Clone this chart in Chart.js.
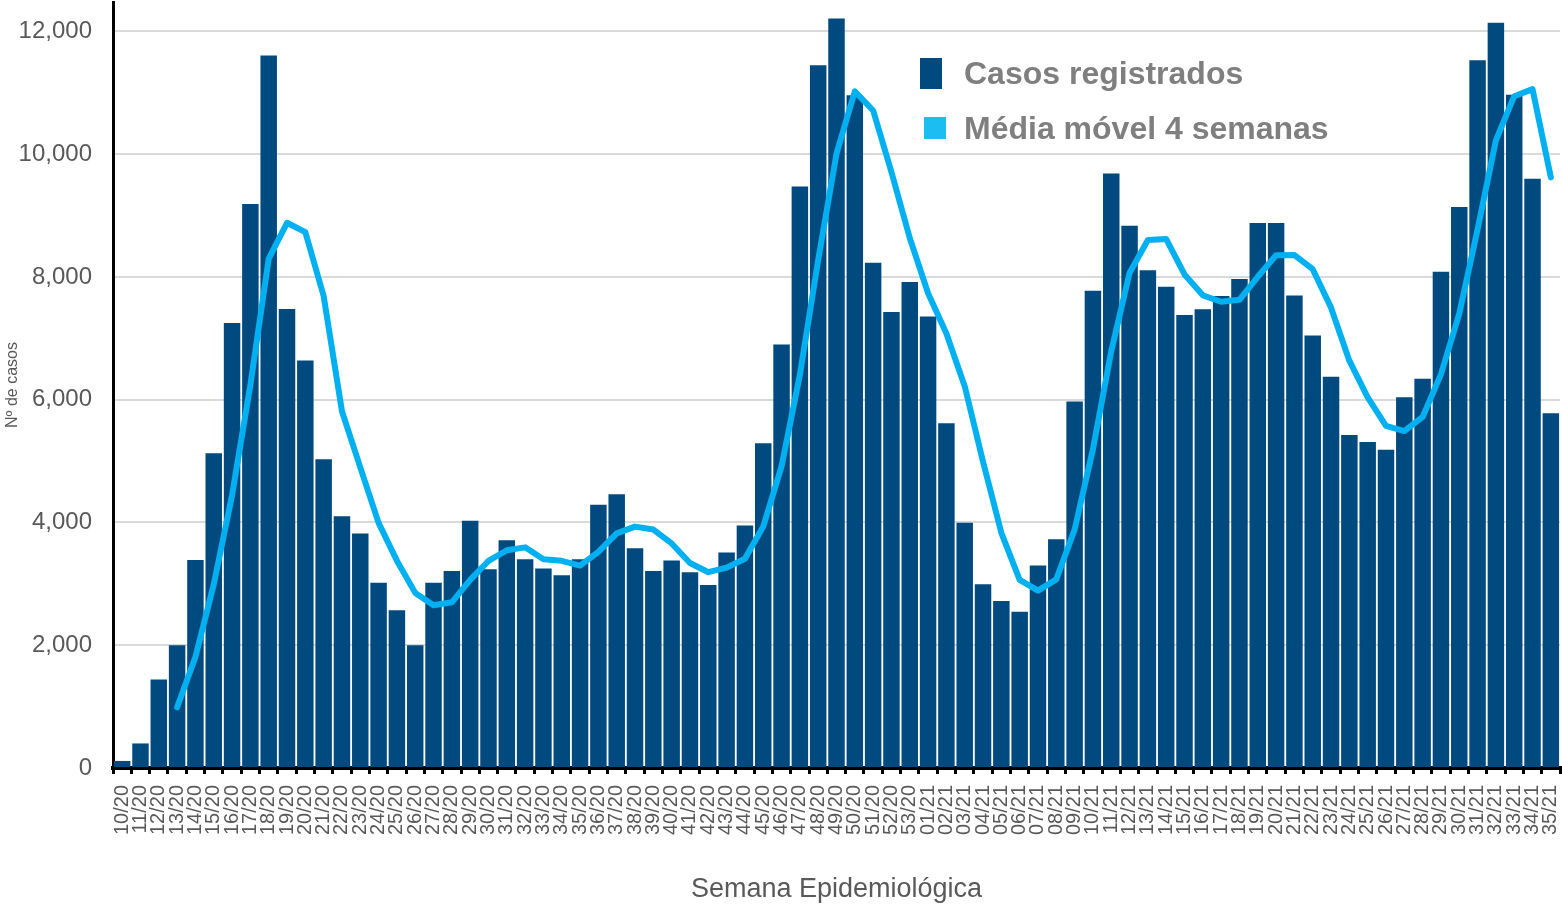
<!DOCTYPE html>
<html>
<head>
<meta charset="utf-8">
<script src="https://cdn.jsdelivr.net/npm/chart.js@4.4.1/dist/chart.umd.min.js"></script>
<style>
  html, body { margin: 0; padding: 0; background: #ffffff; }
  #wrap { width: 1562px; height: 908px; position: relative; }
</style>
</head>
<body>
<div id="wrap"><canvas id="c"></canvas></div>
<script>
const weeks = [
  "10/20","11/20","12/20","13/20","14/20","15/20","16/20","17/20","18/20","19/20",
  "20/20","21/20","22/20","23/20","24/20","25/20","26/20","27/20","28/20","29/20",
  "30/20","31/20","32/20","33/20","34/20","35/20","36/20","37/20","38/20","39/20",
  "40/20","41/20","42/20","43/20","44/20","45/20","46/20","47/20","48/20","49/20",
  "50/20","51/20","52/20","53/20",
  "01/21","02/21","03/21","04/21","05/21","06/21","07/21","08/21","09/21","10/21",
  "11/21","12/21","13/21","14/21","15/21","16/21","17/21","18/21","19/21","20/21",
  "21/21","22/21","23/21","24/21","25/21","26/21","27/21","28/21","29/21","30/21",
  "31/21","32/21","33/21","34/21","35/21"
];

const casosRegistrados = [
  115, 400, 1440, 2000, 3390, 5130, 7250, 9190, 11610, 7480,
  6640, 5030, 4100, 3820, 3020, 2570, 2000, 3020, 3210, 4030,
  3240, 3710, 3400, 3250, 3140, 3400, 4290, 4460, 3580, 3210,
  3380, 3190, 2980, 3510, 3950, 5290, 6900, 9475, 11450, 12210,
  10960, 8230, 7430, 7920,
  7355, 5615, 3995, 2995, 2720, 2545, 3300, 3725, 5970, 7775,
  9685, 8835, 8110, 7840, 7380, 7475, 7690, 7965, 8880, 8880,
  7700, 7045, 6375, 5425, 5310, 5185, 6040, 6340, 8085, 9140,
  11530, 12140, 10970, 9600, 5780
];

const mediaMovel = [
  null, null, null, 989, 1808, 2990, 4443, 6240, 8295, 8883,
  8730, 7690, 5813, 4898, 3993, 3378, 2853, 2653, 2700, 3065,
  3375, 3548, 3595, 3400, 3375, 3298, 3520, 3823, 3933, 3885,
  3658, 3340, 3190, 3265, 3408, 3933, 4913, 6404, 8279, 10009,
  11024, 10713, 9708, 8635,
  7734, 7080, 6221, 4990, 3831, 3064, 2890, 3073, 3885, 5193,
  6789, 8066, 8601, 8618, 8041, 7701, 7596, 7628, 8003, 8354,
  8356, 8126, 7500, 6636, 6039, 5574, 5490, 5719, 6413, 7401,
  8774, 10224, 10945, 11060, 9623
];

const yTicks = [0, 2000, 4000, 6000, 8000, 10000, 12000];
const seriesNames = ["Casos registrados", "Média móvel 4 semanas"];
const axisTitles = { x: "Semana Epidemiológica", y: "Nº de casos" };

const FONT = "'Liberation Sans', Arial, Helvetica, sans-serif";
Chart.defaults.font.family = FONT;
Chart.defaults.color = "#595959";

function zeroPadding(scale) {
  scale.paddingTop = 0;
  scale.paddingBottom = 0;
  scale.paddingLeft = 0;
  scale.paddingRight = 0;
}

const legendPlugin = {
  id: "floatLegend",
  afterDraw(chart) {
    const ctx = chart.ctx;
    ctx.save();
    ctx.fillStyle = "#004a7f";
    ctx.fillRect(920, 58, 22, 31);
    ctx.fillStyle = "#1cbdf0";
    ctx.fillRect(924, 117, 22, 22);
    ctx.fillStyle = "#7f7f7f";
    ctx.font = "bold 32px " + FONT;
    ctx.textBaseline = "alphabetic";
    ctx.textAlign = "left";
    ctx.fillText(chart.data.datasets[1].label, 964, 84);
    ctx.fillText(chart.data.datasets[0].label, 964, 139);
    ctx.restore();
  }
};

new Chart(document.getElementById("c"), {
  type: "bar",
  data: {
    labels: weeks,
    datasets: [
      {
        type: "line",
        label: seriesNames[1],
        data: mediaMovel,
        borderColor: "#00b0f0",
        backgroundColor: "#00b0f0",
        borderWidth: 6,
        pointRadius: 0,
        pointHoverRadius: 0,
        tension: 0,
        borderCapStyle: "round",
        borderJoinStyle: "round",
        spanGaps: false,
        order: 0
      },
      {
        type: "bar",
        label: seriesNames[0],
        data: casosRegistrados,
        backgroundColor: "#004a7f",
        borderWidth: 0,
        barPercentage: 0.9,
        categoryPercentage: 1.0,
        order: 1
      }
    ]
  },
  options: {
    responsive: true,
    maintainAspectRatio: false,
    animation: false,
    layout: { padding: { top: 2, right: 2, left: 0, bottom: 0 } },
    plugins: {
      legend: { display: false },
      tooltip: { enabled: false }
    },
    scales: {
      x: {
        offset: true,
        afterFit(scale) { scale.height = 140; zeroPadding(scale); },
        border: { display: true, color: "#000000", width: 4 },
        grid: {
          display: true,
          offset: true,
          drawOnChartArea: false,
          drawTicks: true,
          tickLength: 6,
          color: "#000000",
          lineWidth: 3
        },
        ticks: {
          autoSkip: false,
          minRotation: 90,
          maxRotation: 90,
          padding: 11,
          color: "#595959",
          font: { size: 20 }
        },
        title: {
          display: true,
          text: axisTitles.x,
          color: "#595959",
          font: { size: 27 },
          padding: { top: 0, bottom: 2 }
        }
      },
      y: {
        min: 0,
        max: 12480,
        afterFit(scale) { scale.width = 113; zeroPadding(scale); },
        afterBuildTicks(scale) { scale.ticks = yTicks.map(v => ({ value: v })); },
        border: { display: true, color: "#000000", width: 3 },
        grid: {
          color: "#d9d9d9",
          lineWidth: 2,
          drawTicks: false
        },
        ticks: {
          padding: 21,
          color: "#595959",
          font: { size: 24 },
          callback: (v) => Number(v).toLocaleString("en-US")
        },
        title: {
          display: true,
          text: axisTitles.y,
          color: "#595959",
          font: { size: 16 },
          padding: { top: 3, bottom: 0 }
        }
      }
    }
  },
  plugins: [legendPlugin]
});
</script>
</body>
</html>
